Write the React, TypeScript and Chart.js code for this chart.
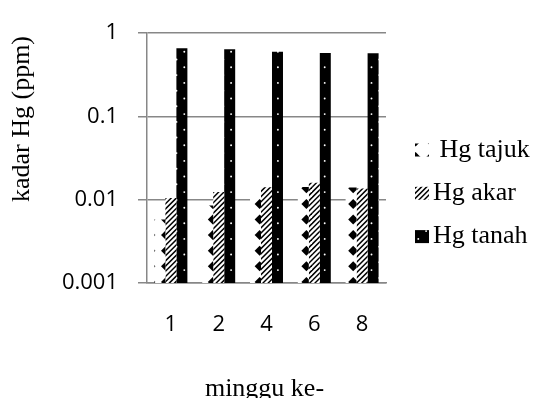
import React, { useEffect, useRef } from 'react';
import { Chart, registerables } from 'chart.js';

Chart.register(...registerables);

// ---- data ----
const categories = ['1', '2', '4', '6', '8'];
const hgTajuk = [0.0058, 0.0085, 0.011, 0.0142, 0.014];
const hgAkar = [0.0105, 0.0124, 0.0141, 0.016, 0.0136];
const hgTanah = [0.66, 0.64, 0.6, 0.58, 0.575];
const seriesLabels = [' Hg tajuk', 'Hg akar', 'Hg tanah'];
const yTickValues = [0.001, 0.01, 0.1, 1];
const yTickLabels = ['0.001', '0.01', '0.1', '1'];
const yTitle = 'kadar Hg (ppm)';
const xTitle = 'minggu ke-';

const GRAY = '#878787';
const SERIF = '"Liberation Serif", "Times New Roman", serif';
const SANS = '"Open Sans", "Liberation Sans", sans-serif';

const P = 15.6; // pattern period
const TILE = 78; // 5 periods

function makeTile(draw: (ctx: CanvasRenderingContext2D) => void): CanvasPattern | string {
  const c = document.createElement('canvas');
  c.width = TILE;
  c.height = TILE;
  const ctx = c.getContext('2d');
  if (!ctx) return '#000';
  draw(ctx);
  const pat = ctx.createPattern(c, 'repeat');
  return pat || '#000';
}

function diamondPattern() {
  return makeTile((ctx) => {
    ctx.fillStyle = '#fff';
    ctx.fillRect(0, 0, TILE, TILE);
    ctx.fillStyle = '#000';
    for (let i = -1; i <= 6; i++) {
      for (let j = -1; j <= 6; j++) {
        const cx = 10 + P * i;
        const cy = 1.1 + P * j;
        ctx.beginPath();
        ctx.moveTo(cx - 5, cy);
        ctx.lineTo(cx, cy - 5);
        ctx.lineTo(cx + 5, cy);
        ctx.lineTo(cx, cy + 5);
        ctx.closePath();
        ctx.fill();
      }
    }
  });
}

function hatchPattern() {
  return makeTile((ctx) => {
    ctx.fillStyle = '#fff';
    ctx.fillRect(0, 0, TILE, TILE);
    ctx.strokeStyle = '#000';
    ctx.lineWidth = 1.5;
    const step = P / 3;
    for (let k = -2; k <= 34; k++) {
      const c = step * k;
      ctx.beginPath();
      ctx.moveTo(c + 2, -2);
      ctx.lineTo(c - TILE - 2, TILE + 2);
      ctx.stroke();
    }
  });
}

function dotPattern() {
  return makeTile((ctx) => {
    ctx.fillStyle = '#000';
    ctx.fillRect(0, 0, TILE, TILE);
    ctx.fillStyle = '#fff';
    for (let i = -1; i <= 6; i++) {
      for (let j = -1; j <= 6; j++) {
        const pts = [
          [12.7 + P * i, 4.9 + P * j],
          [12.7 + P / 2 + P * i, 4.9 + P / 2 + P * j],
        ];
        for (const [x, y] of pts) {
          ctx.beginPath();
          ctx.arc(x, y, 0.95, 0, Math.PI * 2);
          ctx.fill();
        }
      }
    }
  });
}

const textPlugin = {
  id: 'customText',
  afterDraw(chart: any) {
    const ctx: CanvasRenderingContext2D = chart.ctx;
    const area = chart.chartArea;
    ctx.save();
    ctx.fillStyle = '#000';
    ctx.font = `26px ${SERIF}`;
    // y title
    ctx.save();
    ctx.translate(29, 119);
    ctx.rotate(-Math.PI / 2);
    ctx.textAlign = 'center';
    ctx.textBaseline = 'alphabetic';
    ctx.fillText(yTitle, 0, 0);
    ctx.restore();
    // x title
    ctx.textAlign = 'center';
    ctx.textBaseline = 'alphabetic';
    ctx.fillText(xTitle, (area.left + area.right) / 2 - 2, 396);
    // legend
    const ds = chart.data.datasets;
    ctx.textAlign = 'left';
    ctx.textBaseline = 'middle';
    for (let i = 0; i < ds.length; i++) {
      const y = 150 + 43.3 * i;
      ctx.fillStyle = ds[i].backgroundColor;
      ctx.fillRect(415, y - 6.5, 14, 13);
      ctx.fillStyle = '#000';
      ctx.fillText(ds[i].label, 433, y);
    }
    ctx.restore();
  },
};

export default function App() {
  const ref = useRef<HTMLCanvasElement | null>(null);

  useEffect(() => {
    const canvas = ref.current;
    if (!canvas) return;
    const chart = new Chart(canvas, {
      type: 'bar',
      data: {
        labels: categories,
        datasets: [
          { label: seriesLabels[0], data: hgTajuk, backgroundColor: diamondPattern() as any, borderWidth: 0 },
          { label: seriesLabels[1], data: hgAkar, backgroundColor: hatchPattern() as any, borderWidth: 0 },
          { label: seriesLabels[2], data: hgTanah, backgroundColor: dotPattern() as any, borderWidth: 0 },
        ],
      },
      options: {
        animation: false,
        responsive: false,
        maintainAspectRatio: false,
        devicePixelRatio: 1,
        layout: { padding: { top: 23, right: 148, left: 0, bottom: 0 } },
        datasets: { bar: { categoryPercentage: 0.69, barPercentage: 1 } },
        plugins: { legend: { display: false }, tooltip: { enabled: false }, title: { display: false } },
        scales: {
          x: {
            type: 'category',
            grid: { display: false, drawTicks: false, tickLength: 0 },
            border: { display: true, color: GRAY, width: 1.5 },
            ticks: { font: { family: SANS, size: 22 }, color: '#000', padding: 29, maxRotation: 0, autoSkip: false },
            afterFit: (s: any) => { s.height = 115; },
          },
          y: {
            type: 'logarithmic',
            min: 0.001,
            max: 1,
            afterBuildTicks: (s: any) => { s.ticks = yTickValues.map((v) => ({ value: v })); },
            ticks: {
              font: { family: SANS, size: 22 },
              color: '#000',
              padding: 20,
              callback: (_v: any, i: number) => yTickLabels[i],
            },
            grid: { color: GRAY, lineWidth: 1.5, tickLength: 9, drawTicks: true },
            border: { display: true, color: GRAY, width: 1.5 },
            afterFit: (s: any) => { s.width = 147; },
          },
        },
      } as any,
      plugins: [textPlugin],
    });
    return () => chart.destroy();
  }, []);

  return (
    <div style={{ position: 'fixed', left: 0, top: 0, width: 534, height: 398, background: '#fff' }}>
      <canvas ref={ref} width={534} height={398} style={{ width: 534, height: 398, display: 'block' }} />
    </div>
  );
}
